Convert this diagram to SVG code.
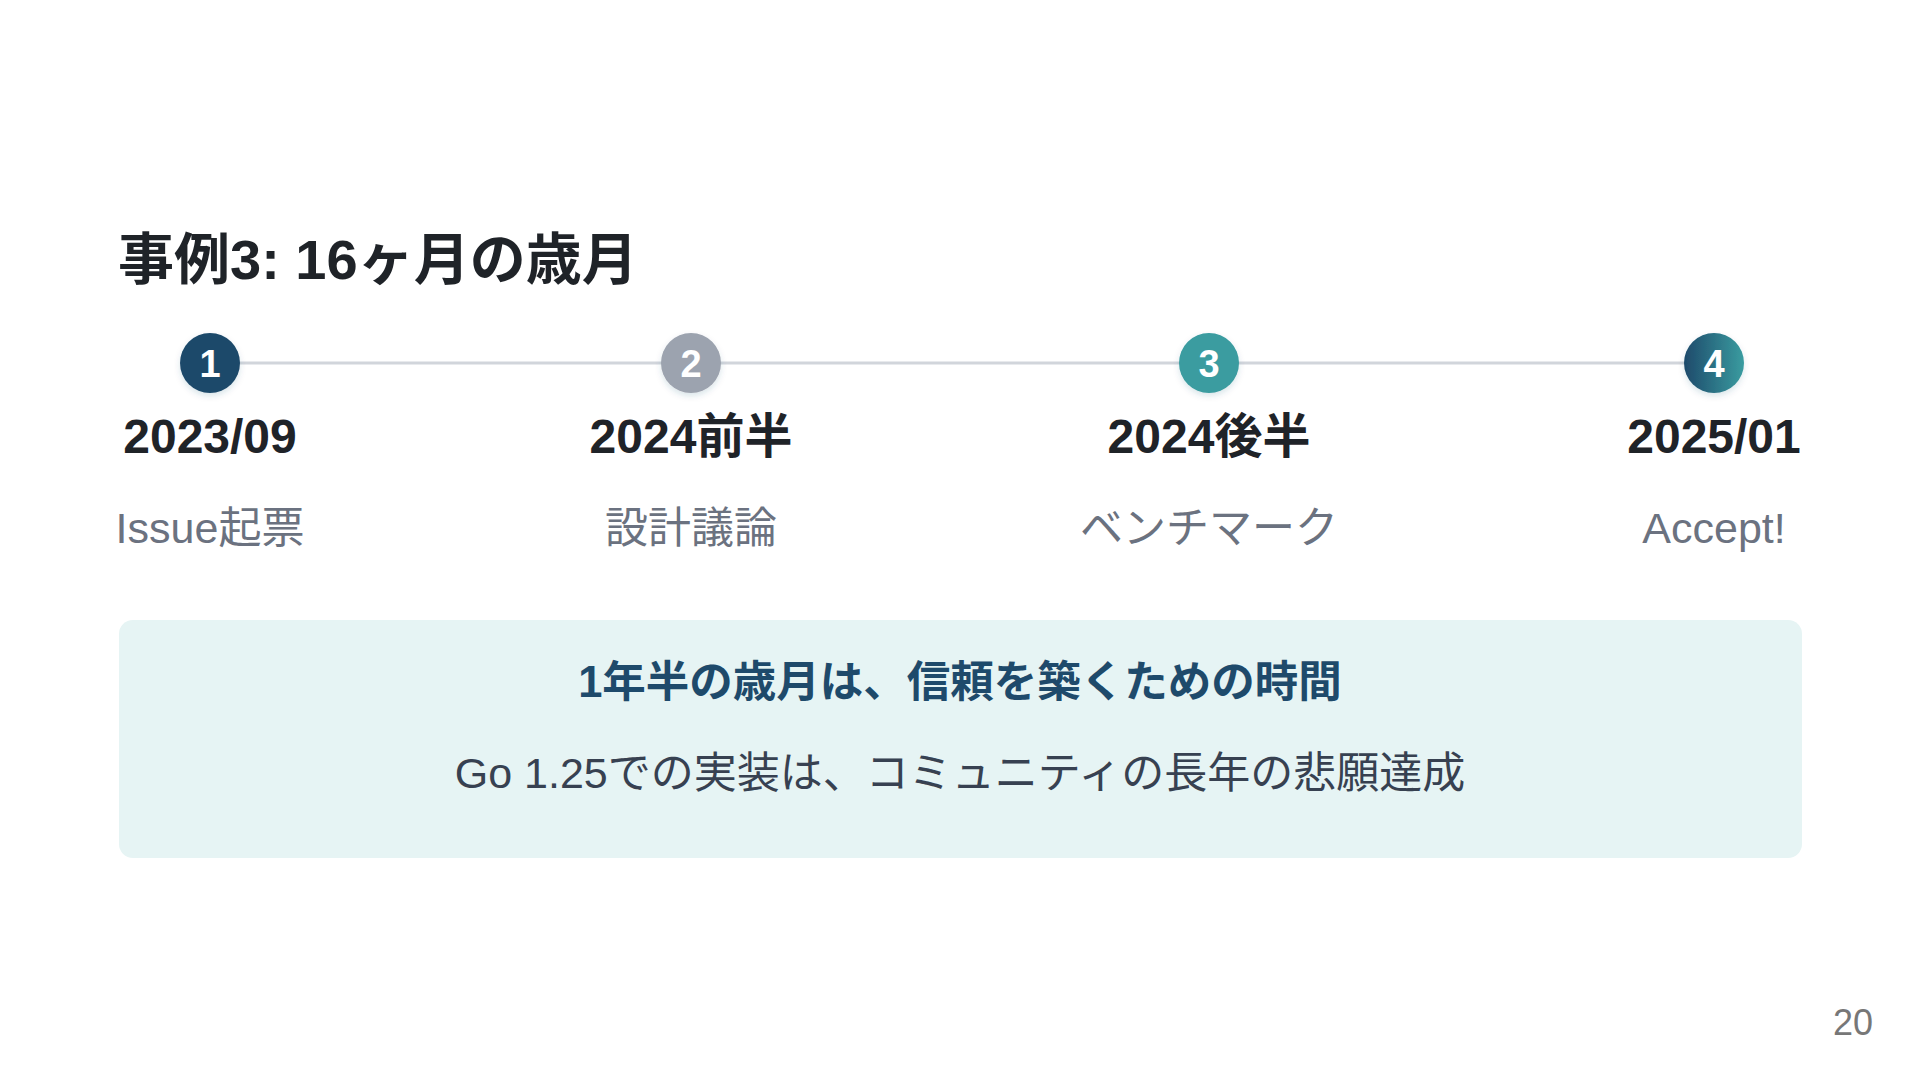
<svg xmlns="http://www.w3.org/2000/svg" width="1920" height="1080" viewBox="0 0 1920 1080">
<style>
text{font-family:"Liberation Sans","Noto Sans CJK JP",sans-serif}
.title{font-size:56px;font-weight:700;fill:#1f2328}
.num{font-size:38px;font-weight:700;fill:#ffffff;text-anchor:middle}
.date{font-size:48px;font-weight:700;fill:#1f2328;text-anchor:middle}
.desc{font-size:43px;fill:#6b7280;text-anchor:middle}
.h{font-size:43.5px;font-weight:700;fill:#1e4a6b;text-anchor:middle}
.b{font-size:43px;fill:#374151;text-anchor:middle}
.pg{font-size:36px;fill:#777777;text-anchor:end}
</style>
<defs>
<linearGradient id="g4" x1="0" y1="0" x2="1" y2="0">
<stop offset="0" stop-color="#1e4a6b"/>
<stop offset="1" stop-color="#3a9ca0"/>
</linearGradient>
<filter id="sh" x="-30%" y="-30%" width="160%" height="170%">
<feDropShadow dx="0" dy="3" stdDeviation="3" flood-color="#1e4a6b" flood-opacity="0.15"/>
</filter>
</defs>
<rect width="1920" height="1080" fill="#ffffff"/>
<text class="title" x="118" y="279">事例3: 16ヶ月の歳月</text>
<g id="connectors">
<line x1="210" y1="363" x2="1714" y2="363" stroke="#d1d5db" stroke-width="3"/>
</g>
<g id="node1">
<circle cx="210" cy="363" r="30" fill="#1e4a6b" filter="url(#sh)"/>
<text class="num" x="210" y="377">1</text>
<text class="date" x="210" y="453">2023/09</text>
<text class="desc" x="210" y="543">Issue起票</text>
</g>
<g id="node2">
<circle cx="691" cy="363" r="30" fill="#9ca3af" filter="url(#sh)"/>
<text class="num" x="691" y="377">2</text>
<text class="date" x="691" y="453">2024前半</text>
<text class="desc" x="691" y="543">設計議論</text>
</g>
<g id="node3">
<circle cx="1209" cy="363" r="30" fill="#3a9ca0" filter="url(#sh)"/>
<text class="num" x="1209" y="377">3</text>
<text class="date" x="1209" y="453">2024後半</text>
<text class="desc" x="1209" y="543">ベンチマーク</text>
</g>
<g id="node4">
<circle cx="1714" cy="363" r="30" fill="url(#g4)" filter="url(#sh)"/>
<text class="num" x="1714" y="377">4</text>
<text class="date" x="1714" y="453">2025/01</text>
<text class="desc" x="1714" y="543">Accept!</text>
</g>
<g id="summary">
<rect x="119" y="620" width="1683" height="238" rx="14" fill="#e6f4f4"/>
<text class="h" x="960" y="697">1年半の歳月は、信頼を築くための時間</text>
<text class="b" x="960" y="788">Go 1.25での実装は、コミュニティの長年の悲願達成</text>
</g>
<text class="pg" x="1873" y="1035">20</text>
</svg>
